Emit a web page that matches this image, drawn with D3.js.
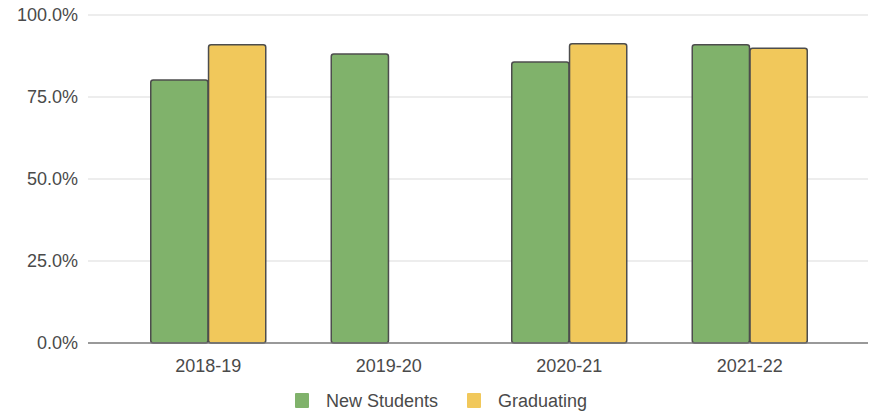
<!DOCTYPE html>
<html><head><meta charset="utf-8">
<script src="https://cdn.jsdelivr.net/npm/d3@7"></script>
<style>body{margin:0;background:#fff;} text{font-family:"Liberation Sans",Arial,sans-serif;}</style>
</head><body>
<svg id="c" width="874" height="417"></svg>
<script>
const categories = ["2018-19","2019-20","2020-21","2021-22"];
const seriesNames = ["New Students","Graduating"];
const newStudents = [80.2, 88.1, 85.7, 90.9];
const graduating = [90.9, null, 91.2, 89.9];
const yTicks = [0, 25, 50, 75, 100];
const colors = ["#80b26b", "#f1c85b"];

(function(){
const svg = d3.select("#c");
const mLeft = 88, mRight = 868, mTop = 15, mBottom = 343;
const y = d3.scaleLinear().domain([0, 100]).range([mBottom, mTop]);
const x = d3.scaleBand().domain(categories).range([118, 840]).paddingInner(0).paddingOuter(0);
const bw = 57;
const sub = d3.scaleBand().domain(seriesNames)
  .range([x.bandwidth() / 2 - bw - 0.5, x.bandwidth() / 2 + bw + 0.5]).paddingInner(0.01);

svg.append("g").selectAll("line").data(yTicks.filter(t => t > 0)).join("line")
  .attr("x1", mLeft).attr("x2", mRight)
  .attr("y1", d => y(d)).attr("y2", d => y(d))
  .attr("stroke", "#dcdcdc").attr("stroke-width", 1.2);

svg.append("g").selectAll("text").data(yTicks).join("text")
  .attr("x", 78).attr("y", d => y(d)).attr("dy", "0.35em")
  .attr("text-anchor", "end").attr("font-size", 18).attr("fill", "#4a4a4a")
  .text(d => d3.format(".1f")(d) + "%");

const data = [];
categories.forEach((c, i) => {
  [newStudents[i], graduating[i]].forEach((v, j) => {
    if (v != null) data.push({c, s: seriesNames[j], v, j});
  });
});

svg.append("g").selectAll("rect").data(data).join("rect")
  .attr("x", d => x(d.c) + sub(d.s))
  .attr("y", d => y(d.v))
  .attr("width", sub.bandwidth())
  .attr("height", d => mBottom - y(d.v))
  .attr("rx", 2.5)
  .attr("fill", d => colors[d.j])
  .attr("stroke", "#4d4d4d").attr("stroke-width", 1.5);

svg.append("line").attr("x1", mLeft).attr("x2", mRight).attr("y1", mBottom).attr("y2", mBottom)
  .attr("stroke", "#777").attr("stroke-width", 1.5);

svg.append("g").selectAll("text").data(categories).join("text")
  .attr("x", d => x(d) + x.bandwidth() / 2).attr("y", 366).attr("dy", "0.35em")
  .attr("text-anchor", "middle").attr("font-size", 18).attr("fill", "#4a4a4a")
  .text(d => d);

const legend = [{name: seriesNames[0], x: 295, c: colors[0]}, {name: seriesNames[1], x: 467, c: colors[1]}];
const lg = svg.append("g").selectAll("g").data(legend).join("g");
lg.append("rect").attr("x", d => d.x).attr("y", 393).attr("width", 14).attr("height", 15).attr("rx", 1)
  .attr("fill", d => d.c);
lg.append("text").attr("x", d => d.x + 31).attr("y", 401).attr("dy", "0.35em")
  .attr("font-size", 18).attr("fill", "#4a4a4a").text(d => d.name);
})();
</script>
</body></html>
